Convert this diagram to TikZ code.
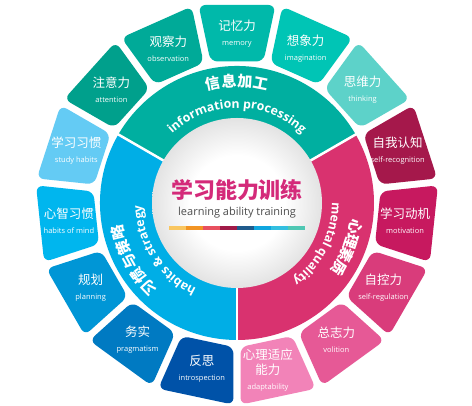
\documentclass[tikz,border=0pt]{standalone}
\usepackage{fontspec}
\setmainfont{Open Sans}
\newfontfamily\cjk{Noto Sans CJK SC}
\usetikzlibrary{decorations.text}

% ring colours
\definecolor{ringteal}{HTML}{00AFA0}
\definecolor{ringblue}{HTML}{00AEE6}
\definecolor{ringpink}{HTML}{D9326F}
% petal colours
\definecolor{tealA}{HTML}{00A08C}
\definecolor{tealB}{HTML}{00AA98}
\definecolor{tealC}{HTML}{00B9AA}
\definecolor{tealD}{HTML}{00C5B5}
\definecolor{tealE}{HTML}{5DD2C9}
\definecolor{pinkA}{HTML}{A5184B}
\definecolor{pinkB}{HTML}{C7195F}
\definecolor{pinkC}{HTML}{D93C7B}
\definecolor{pinkD}{HTML}{E65996}
\definecolor{pinkE}{HTML}{F283B8}
\definecolor{blueA}{HTML}{64CBF4}
\definecolor{blueB}{HTML}{00B6EE}
\definecolor{blueC}{HTML}{0096D6}
\definecolor{blueD}{HTML}{007AC2}
\definecolor{blueE}{HTML}{0052A8}
% centre
\definecolor{titlemag}{HTML}{D42A7A}
\definecolor{subgray}{HTML}{4D4D4D}
\definecolor{barA}{HTML}{F9C660}
\definecolor{barB}{HTML}{F29423}
\definecolor{barC}{HTML}{E8505F}
\definecolor{barD}{HTML}{A01A48}
\definecolor{barE}{HTML}{1F5B8C}
\definecolor{barF}{HTML}{10A6DF}
\definecolor{barG}{HTML}{33BFE0}
\definecolor{barH}{HTML}{4FC7B3}

\pgfdeclareradialshading{coreshade}{\pgfpoint{0bp}{0bp}}{color(0bp)=(white); color(14bp)=(white); color(25bp)=(gray!22); color(50bp)=(gray!22)}

\newcommand\enlabel[1]{{\normalfont\fontsize{7.5}{9}\selectfont #1}}
\newcommand\ringen{\bfseries\fontsize{12.3}{13}\selectfont}

\begin{document}
\begin{tikzpicture}[x=1pt, y=1pt,
      petal/.style={rounded corners=7pt},
      plabel/.style={text=white, align=center, inner sep=0pt, font=\cjk\fontsize{12.5}{15}\selectfont},
      ringzh/.style={text=white, inner sep=0pt, font=\cjk\bfseries\fontsize{15}{15}\selectfont},
      ringtext/.style={decorate, decoration={text along path, text align=center, text color=white, text={|\ringen|#1}}}
      ]

      \useasboundingbox (0,0) rectangle (472,406);
      \fill[white] (0,0) rectangle (472,406);

      \begin{scope}[shift={(237,203)}]

      % Outer petals
      \foreach \a/\col in {138/tealA, 114/tealB, 90/tealC, 66/tealD, 42/tealE,
                           18/pinkA, 354/pinkB, 330/pinkC, 306/pinkD, 282/pinkE,
                           162/blueA, 186/blueB, 210/blueC, 234/blueD, 258/blueE}
        \fill[\col, petal, rotate=\a] (-10.6:144) -- (198,-38.5) -- (198,38.5) -- (10.6:144) -- cycle;

      % Ring sectors
      \fill[ringteal] (0,0) -- (30:137) arc[start angle=30, end angle=150, radius=137] -- cycle;
      \fill[ringblue] (0,0) -- (150:137) arc[start angle=150, end angle=270, radius=137] -- cycle;
      \fill[ringpink] (0,0) -- (270:137) arc[start angle=270, end angle=390, radius=137] -- cycle;
      \foreach \a in {30,150,270}
        \draw[white, line width=2.5pt] (\a:84) -- (\a:138);

      % Centre disc
      \shade[shading=coreshade] (0,0) circle[radius=85];

      % Petal labels
      \node[plabel] (attention) at (138:169) {注意力\\\enlabel{attention}};
      \node[plabel] (observation) at (114:169) {观察力\\\enlabel{observation}};
      \node[plabel] (memory) at (90:169) {记忆力\\\enlabel{memory}};
      \node[plabel] (imagination) at (66:169) {想象力\\\enlabel{imagination}};
      \node[plabel] (thinking) at (42:169) {思维力\\\enlabel{thinking}};
      \node[plabel] (selfrec) at (18:169) {自我认知\\\enlabel{self-recognition}};
      \node[plabel] (motivation) at (354:169) {学习动机\\\enlabel{motivation}};
      \node[plabel] (selfreg) at (330:169) {自控力\\\enlabel{self-regulation}};
      \node[plabel] (volition) at (306:169) {总志力\\\enlabel{volition}};
      \node[plabel] (adapt) at (280.5:170) {心理适应\\能力\\\enlabel{adaptability}};
      \node[plabel] (studyhab) at (162:169) {学习习惯\\\enlabel{study habits}};
      \node[plabel] (mindhab) at (186:169) {心智习惯\\\enlabel{habits of mind}};
      \node[plabel] (planning) at (210:169) {规划\\\enlabel{planning}};
      \node[plabel] (pragmatism) at (234:169) {务实\\\enlabel{pragmatism}};
      \node[plabel] (introspection) at (258:169) {反思\\\enlabel{introspection}};

      % Ring titles
      \foreach \ch [count=\i, evaluate=\i as \ang using {90-(\i-2.5)*7.6}] in {信,息,加,工}
        \node[ringzh, rotate=\ang-90] (info\i) at (\ang:122) {\ch};
      \foreach \ch [count=\i, evaluate=\i as \ang using {209+(3-\i)*7.5}] in {习,惯,与,策,略}
        \node[ringzh, rotate=\ang-90] (habit\i) at (\ang:122) {\ch};
      \foreach \ch [count=\i, evaluate=\i as \ang using {338-(\i-2.5)*7}] in {心,理,素,质}
        \node[ringzh, rotate=\ang-90] (mental\i) at (\ang:121) {\ch};

      \path[ringtext={information processing}] (135:95) arc[start angle=135, end angle=45, radius=95];
      \path[ringtext={habits {\&} strategy}] (258:95) arc[start angle=258, end angle=168, radius=95];
      \path[ringtext={mental quality}] (18:95) arc[start angle=18, end angle=-72, radius=95];

      % Centre title
      \node[font=\cjk\bfseries\fontsize{22}{22}\selectfont, text=titlemag, inner sep=0pt] (title) at (0,13) {学习能力训练};
      \node[font=\fontsize{11}{11}\selectfont, text=subgray, inner sep=0pt] (subtitle) at (0,-10) {learning ability training};
      \foreach \col [count=\i] in {barA,barB,barC,barD,barE,barF,barG,barH}
        \fill[\col] ({-68+(\i-1)*17},-27) rectangle ++(17,4);

      \end{scope}

   \end{tikzpicture}
\end{document}
